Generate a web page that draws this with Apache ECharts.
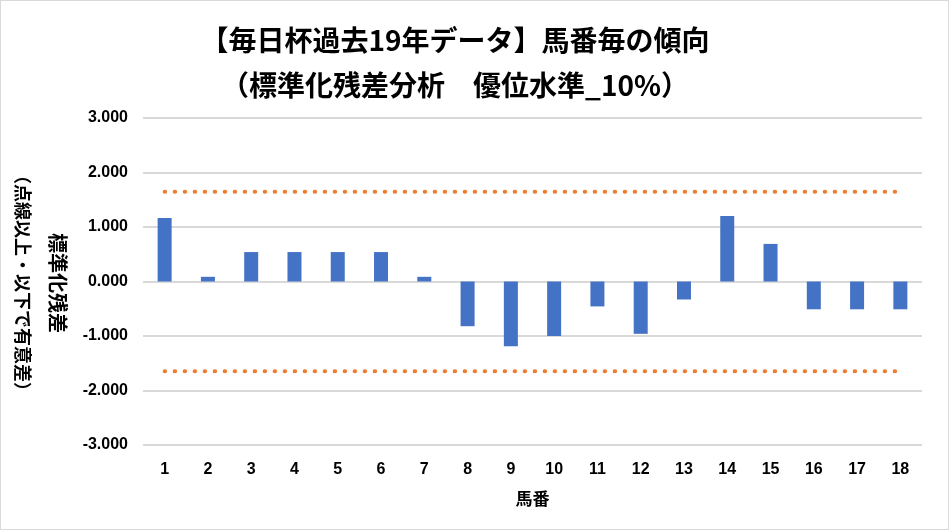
<!DOCTYPE html>
<html><head><meta charset="utf-8">
<script src="https://cdn.jsdelivr.net/npm/echarts@6/dist/echarts.min.js"></script>
<style>html,body{margin:0;padding:0;background:#fff}#c{width:947px;height:528px;border:1px solid #d9d9d9;}</style>
</head><body><div id="c"></div>
<script>
const categories = ['1','2','3','4','5','6','7','8','9','10','11','12','13','14','15','16','17','18'];
const residuals = [1.165, 0.086, 0.54, 0.54, 0.54, 0.54, 0.086, -0.82, -1.19, -1.00, -0.457, -0.96, -0.33, 1.20, 0.69, -0.51, -0.51, -0.51];
const upperBound = categories.map(() => 1.645);
const lowerBound = categories.map(() => -1.645);
const yTicks = [-3, -2, -1, 0, 1, 2, 3];
const titleText = '【毎日杯過去19年データ】馬番毎の傾向\n（標準化残差分析　優位水準_10%）';
const yName1 = '標準化残差';
const yName2 = '（点線以上・以下で有意差）';
const xName = '馬番';

const font = '"Noto Sans CJK JP", "Liberation Sans", sans-serif';
const chart = echarts.init(document.getElementById('c'));
const dotted = {color:'#ED7D31', width:4, type:[0.5, 9.5], cap:'round'};
chart.setOption({
  animation:false,
  title:{text:titleText, top:12, left:449, textAlign:'center',
    textStyle:{fontFamily:font, fontSize:28, fontWeight:'bold', color:'#000', lineHeight:45}},
  grid:{left:142, right:26, top:117, bottom:84, containLabel:false},
  xAxis:{type:'category', data:categories, position:'bottom',
    axisLine:{show:false}, axisTick:{show:false},
    axisLabel:{margin:17, fontFamily:'"Liberation Sans", sans-serif', fontSize:16, fontWeight:'bold', color:'#000'},
    name:xName, nameLocation:'middle', nameGap:45,
    nameTextStyle:{fontFamily:font, fontSize:17, fontWeight:'bold', color:'#000'}},
  yAxis:{type:'value', min:yTicks[0], max:yTicks[yTicks.length-1], interval:1,
    axisLine:{show:false}, axisTick:{show:false},
    axisLabel:{margin:15, fontFamily:'"Liberation Sans", sans-serif', fontSize:16, fontWeight:'bold', color:'#000',
      formatter:v=>v.toFixed(3)},
    splitLine:{lineStyle:{color:'#D9D9D9', width:2}}},
  graphic:[
    {type:'text', x:57, y:282, rotation:-Math.PI/2,
      style:{text:yName1, font:'bold 20px '+font, fill:'#000', align:'center', verticalAlign:'middle'}},
    {type:'text', x:22, y:282, rotation:-Math.PI/2,
      style:{text:yName2, font:'bold 18px '+font, fill:'#000', align:'center', verticalAlign:'middle'}}
  ],
  series:[
    {type:'bar', data:residuals, barWidth:14, itemStyle:{color:'#4472C4'}},
    {type:'line', data:upperBound, symbol:'none', lineStyle:dotted, silent:true},
    {type:'line', data:lowerBound, symbol:'none', lineStyle:dotted, silent:true}
  ]
});
</script></body></html>
